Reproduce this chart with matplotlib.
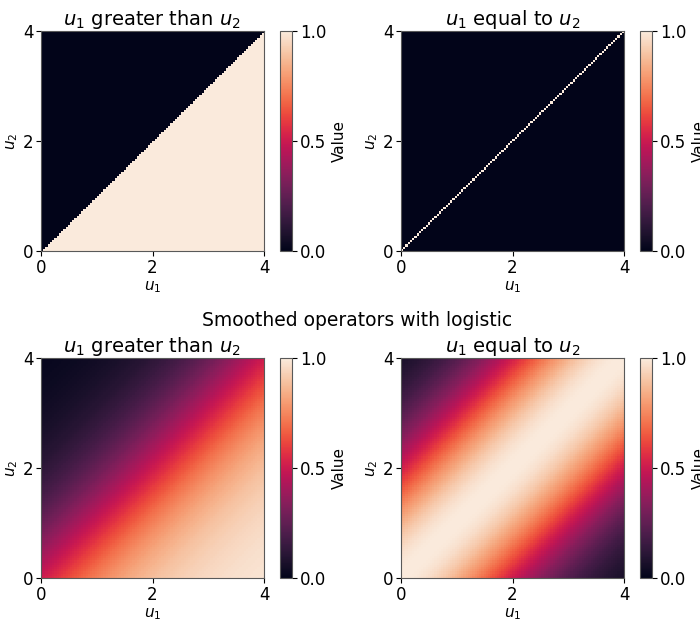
import numpy as np
import matplotlib.pyplot as plt
import seaborn as sns

# grid of inputs
u1 = np.linspace(0, 4, 100)
u2 = np.linspace(0, 4, 100)
U1, U2 = np.meshgrid(u1, u2)
D = U1 - U2

# logistic steepness / width used for the smoothed operators
k_gt = 1.0
sigma_eq = 6.0

hard_gt = (U1 > U2).astype(float)
hard_eq = np.isclose(U1, U2).astype(float)
soft_gt = 1.0 / (1.0 + np.exp(-k_gt * D))
soft_eq = np.exp(-D ** 2 / sigma_eq)

panels = [
    (hard_gt, r'$u_1$ greater than $u_2$'),
    (hard_eq, r'$u_1$ equal to $u_2$'),
    (soft_gt, r'$u_1$ greater than $u_2$'),
    (soft_eq, r'$u_1$ equal to $u_2$'),
]
ticks = [0, 2, 4]
cbar_ticks = [0.0, 0.5, 1.0]

cmap = sns.color_palette("rocket", as_cmap=True)

W, H = 700, 624
fig = plt.figure(figsize=(W / 100, H / 100), dpi=100)

# pixel boxes: (left, top, width, height)
img_boxes = [(41, 31, 223, 220), (401, 31, 223, 220),
             (41, 358, 223, 220), (401, 358, 223, 220)]
cb_dx = 239
cb_w = 12
edge = '0.35'

for (data, title), (l, t, w, h) in zip(panels, img_boxes):
    ax = fig.add_axes([l / W, 1 - (t + h) / H, w / W, h / H])
    im = ax.imshow(data, origin='lower', extent=[0, 4, 0, 4], cmap=cmap,
                   vmin=0, vmax=1, aspect='auto', interpolation='nearest')
    ax.set_xticks(ticks)
    ax.set_yticks(ticks)
    ax.tick_params(labelsize=12, pad=2)
    for s in ax.spines.values():
        s.set_edgecolor(edge)
    ax.set_xlabel(r'$u_1$', fontsize=11, labelpad=2)
    ax.set_ylabel(r'$u_2$', fontsize=11, labelpad=2)
    ax.set_title(title, fontsize=14, pad=3)
    cax = fig.add_axes([(l + cb_dx) / W, 1 - (t + h) / H, cb_w / W, h / H])
    cb = fig.colorbar(im, cax=cax, ticks=cbar_ticks)
    cb.ax.set_yticklabels(['0.0', '0.5', '1.0'])
    cb.ax.tick_params(labelsize=12, pad=2)
    cb.outline.set_edgecolor(edge)
    cb.set_label('Value', fontsize=11)

fig.text(357 / W, 1 - 321 / H, 'Smoothed operators with logistic',
         ha='center', va='center', fontsize=13.5)

fig.savefig('out.png', dpi=100)
